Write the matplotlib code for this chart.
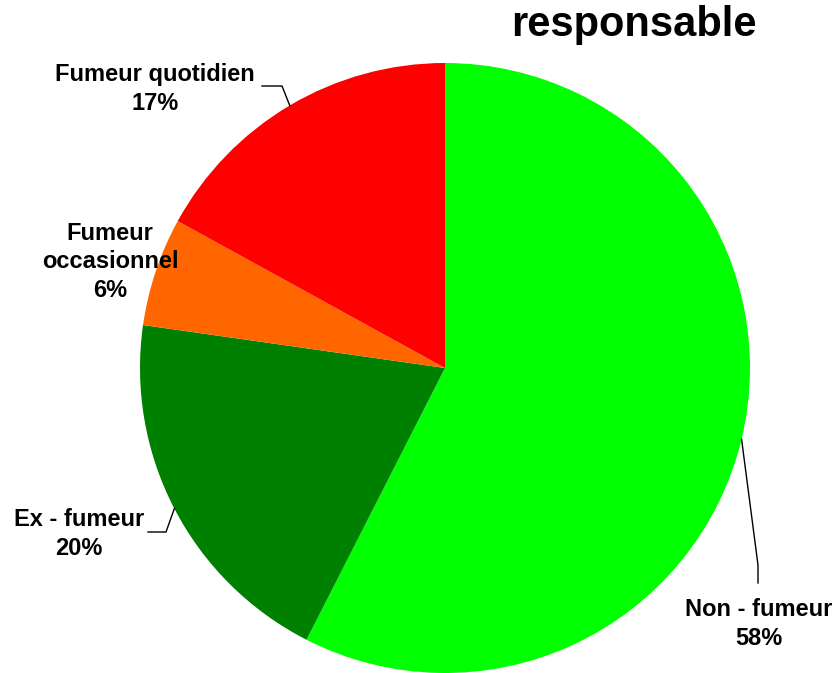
import numpy as np
import matplotlib.pyplot as plt

plt.rcParams['font.family'] = ['Liberation Sans', 'DejaVu Sans']

labels = ["Non - fumeur", "Ex - fumeur", "Fumeur\noccasionnel", "Fumeur quotidien"]
values = [57.5, 19.75, 5.75, 17.0]
pct_labels = ["58%", "20%", "6%", "17%"]
colors = ["#00FF00", "#008000", "#FF6600", "#FF0000"]

W, H = 837, 673
CX, CY, R = 445, 368, 305

fig = plt.figure(figsize=(W / 100, H / 100), dpi=100)
ax = fig.add_axes([(CX - R) / W, (H - CY - R) / H, 2 * R / W, 2 * R / H])

wedges, _ = ax.pie(values, colors=colors, startangle=90, counterclock=False,
                   radius=1, wedgeprops=dict(linewidth=0))
ax.set_xlim(-1, 1)
ax.set_ylim(-1, 1)
ax.set_aspect("equal")
ax.axis("off")


def px(x, y):
    # pixel (from top-left) -> data coords
    return (x - CX) / R, (CY - y) / R


# label centres (pixels) and leader elbows/ends
label_pos = [(759, 624), (79, 534), (110, 262), (155, 89)]
leaders = [[(758, 565), (758, 583)], [(166, 532), (148, 532)], None,
           [(282, 86), (262, 86)]]

for w, lab, pct, pos, ld in zip(wedges, labels, pct_labels, label_pos, leaders):
    ang = np.deg2rad((w.theta1 + w.theta2) / 2)
    if ld is not None:
        xs = [np.cos(ang)] + [px(*p)[0] for p in ld]
        ys = [np.sin(ang)] + [px(*p)[1] for p in ld]
        ax.plot(xs, ys, color="black", lw=1, clip_on=False)
    tx, ty = px(*pos)
    ax.text(tx, ty, lab + "\n" + pct, ha="center", va="center", fontsize=17,
            fontweight="bold", linespacing=1.33, clip_on=False)

fig.text(634 / W, 1 - 36 / H, "responsable", ha="center", va="baseline",
         fontsize=30, fontweight="bold")

fig.savefig("out.png", dpi=100)
